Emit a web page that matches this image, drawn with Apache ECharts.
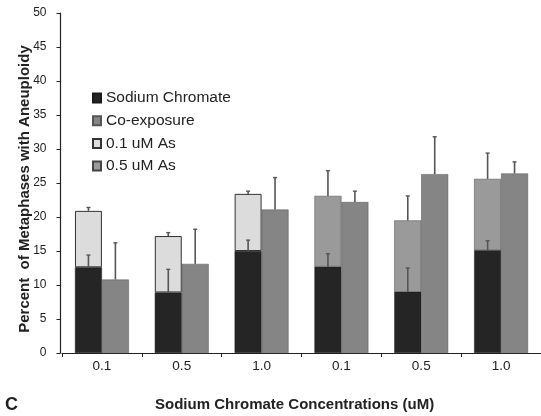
<!DOCTYPE html>
<html>
<head>
<meta charset="utf-8">
<script src="https://cdn.jsdelivr.net/npm/echarts@6/dist/echarts.min.js"></script>
<style>
  html, body { margin: 0; padding: 0; background: #fff; }
  #chart { width: 541px; height: 416px; }
</style>
</head>
<body>
<div id="chart"></div>
<script>
// Sodium chromate concentration (uM) for each group of bars
const categories = ['0.1', '0.5', '1.0', '0.1', '0.5', '1.0'];

// Mean percent of metaphases with aneuploidy
const chromate      = [12.6, 8.9, 15.0, 12.7, 9.0, 15.1];
const chromateErr   = [1.8, 3.4, 1.6, 1.9, 3.5, 1.4];
// Stack tops (chromate + arsenic) for each arsenic level
const as01Total     = [20.9, 17.2, 23.4, null, null, null];
const as01Err       = [0.5, 0.5, 0.4, null, null, null];
const as05Total     = [null, null, null, 23.1, 19.5, 25.6];
const as05Err       = [null, null, null, 3.7, 3.6, 3.8];
const coExposure    = [10.8, 13.1, 21.1, 22.2, 26.3, 26.4];
const coExposureErr = [5.4, 5.1, 4.7, 1.6, 5.5, 1.7];

// Y axis range
const yMin = 0, yMax = 50, yStep = 5;

const FONT = 'Liberation Sans, Arial, sans-serif';

// Arsenic segment heights, stacked on the chromate bar
const as01Seg = as01Total.map((t, i) => t == null ? '-' : +(t - chromate[i]).toFixed(2));
const as05Seg = as05Total.map((t, i) => t == null ? '-' : +(t - chromate[i]).toFixed(2));

const CAT_GAP = 0.325;

// Error whiskers: [category, bar top, whisker top, side (-1 left bar, +1 right bar)]
const errData = [];
chromate.forEach((v, i) => errData.push([i, v, v + chromateErr[i], -1]));
as01Total.forEach((v, i) => { if (v != null) errData.push([i, v, v + as01Err[i], -1]); });
as05Total.forEach((v, i) => { if (v != null) errData.push([i, v, v + as05Err[i], -1]); });
coExposure.forEach((v, i) => errData.push([i, v, v + coExposureErr[i], 1]));

function renderErr(params, api) {
  const cat = api.value(0);
  const band = api.size([1, 0])[0];
  const barW = band * (1 - CAT_GAP) / 2;
  const side = api.value(3);
  const base = api.coord([cat, api.value(1)]);
  const top = api.coord([cat, api.value(2)]);
  const x = base[0] + side * barW / 2;
  const cap = 2;
  return {
    type: 'group',
    children: [
      { type: 'line', shape: { x1: x, y1: base[1], x2: x, y2: top[1] },
        style: { stroke: '#555', lineWidth: 1.6 } },
      { type: 'line', shape: { x1: x - cap, y1: top[1], x2: x + cap, y2: top[1] },
        style: { stroke: '#555', lineWidth: 1.4 } }
    ]
  };
}

const chart = echarts.init(document.getElementById('chart'), null, { renderer: 'canvas' });

const barBase = {
  type: 'bar',
  barGap: '0%',
  barCategoryGap: (CAT_GAP * 100) + '%',
  animation: false
};

chart.setOption({
  backgroundColor: '#ffffff',
  animation: false,
  textStyle: { fontFamily: FONT },
  grid: { left: 62, right: -5, top: 13, bottom: 63, containLabel: false },
  legend: {
    orient: 'vertical',
    left: 92,
    top: 90,
    padding: 0,
    itemWidth: 8,
    itemHeight: 9,
    itemGap: 6.7,
    icon: 'rect',
    textStyle: { fontSize: 15.5, color: '#222', lineHeight: 16 },
    data: ['Sodium Chromate', 'Co-exposure', '0.1 uM As', '0.5 uM As']
  },
  xAxis: {
    type: 'category',
    data: categories,
    axisLine: { lineStyle: { color: '#222', width: 1.2 } },
    axisTick: { show: true, length: 4, lineStyle: { color: '#222' } },
    axisLabel: { fontSize: 13.5, color: '#222', margin: 6 }
  },
  yAxis: {
    type: 'value',
    min: yMin,
    max: yMax,
    interval: yStep,
    offset: 1.5,
    splitLine: { show: false },
    axisLine: { show: true, lineStyle: { color: '#222', width: 1.2 } },
    axisTick: { show: true, length: 4, lineStyle: { color: '#222' } },
    axisLabel: { fontSize: 12, color: '#222', margin: 14 }
  },
  series: [
    Object.assign({}, barBase, {
      name: 'Sodium Chromate',
      stack: 'treat',
      data: chromate,
      itemStyle: { color: '#252525', borderColor: '#1a1a1a', borderWidth: 0.5 }
    }),
    Object.assign({}, barBase, {
      name: '0.1 uM As',
      stack: 'treat',
      data: as01Seg,
      itemStyle: { color: '#dcdcdc', borderColor: '#333', borderWidth: 1 }
    }),
    Object.assign({}, barBase, {
      name: '0.5 uM As',
      stack: 'treat',
      data: as05Seg,
      itemStyle: { color: '#9a9a9a', borderColor: '#444', borderWidth: 0.5 }
    }),
    Object.assign({}, barBase, {
      name: 'Co-exposure',
      data: coExposure,
      itemStyle: { color: '#858585', borderColor: '#555', borderWidth: 0.5 }
    }),
    {
      type: 'custom',
      name: 'error',
      renderItem: renderErr,
      data: errData,
      encode: { x: 0, y: [1, 2] },
      z: 5,
      silent: true,
      animation: false
    }
  ],
  graphic: [
    { type: 'text', x: 24.5, y: 189, rotation: Math.PI / 2,
      style: { text: 'Percent  of Metaphases with Aneuploidy', fontSize: 15, fontWeight: 'bold',
               fill: '#222', align: 'center', verticalAlign: 'middle', fontFamily: FONT } },
    { type: 'text', left: 5, top: 396,
      style: { text: 'C', fontSize: 18, fontWeight: 'bold', fill: '#222', fontFamily: FONT } },
    { type: 'text', left: 155, top: 397,
      style: { text: 'Sodium Chromate Concentrations (uM)', fontSize: 15, fontWeight: 'bold',
               fill: '#222', fontFamily: FONT } }
  ]
});
</script>
</body>
</html>
